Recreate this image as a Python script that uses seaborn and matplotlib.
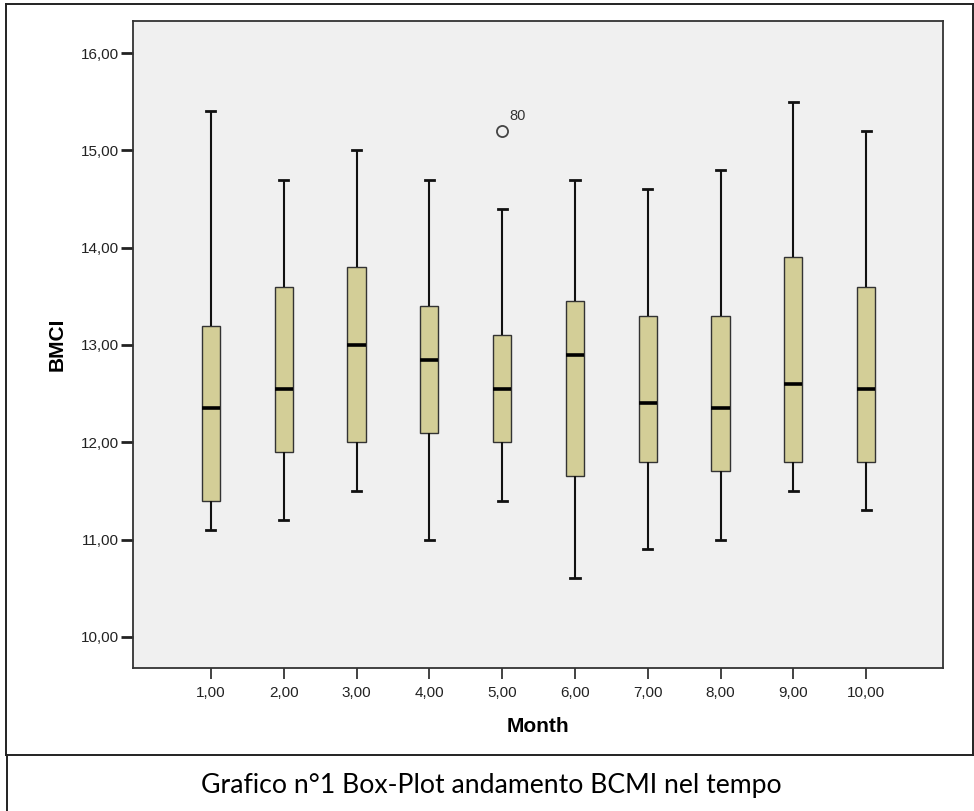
import numpy as np
import pandas as pd
import matplotlib
matplotlib.use('Agg')
import matplotlib.pyplot as plt
from matplotlib.lines import Line2D
import seaborn as sns

# Box summaries (whisker low, Q1, median, Q3, whisker high)
months = ['1,00', '2,00', '3,00', '4,00', '5,00', '6,00', '7,00', '8,00', '9,00', '10,00']
whisk_low = [11.1, 11.2, 11.5, 11.0, 11.4, 10.6, 10.9, 11.0, 11.5, 11.3]
q1 = [11.4, 11.9, 12.0, 12.1, 12.0, 11.65, 11.8, 11.7, 11.8, 11.8]
median = [12.35, 12.55, 13.0, 12.85, 12.55, 12.9, 12.4, 12.35, 12.6, 12.55]
q3 = [13.2, 13.6, 13.8, 13.4, 13.1, 13.45, 13.3, 13.3, 13.9, 13.6]
whisk_high = [15.4, 14.7, 15.0, 14.7, 14.4, 14.7, 14.6, 14.8, 15.5, 15.2]

# outlier(s)
out_month = ['5,00']
out_value = [15.2]
out_label = ['80']

yticks = [10, 11, 12, 13, 14, 15, 16]

# five points per month -> quartiles come out exactly
rows = []
for i, m in enumerate(months):
    for v in (whisk_low[i], q1[i], median[i], q3[i], whisk_high[i]):
        rows.append({'Month': m, 'BMCI': v})
df = pd.DataFrame(rows)
df_out = pd.DataFrame({'Month': out_month, 'BMCI': out_value})

W, H = 974, 811
fig = plt.figure(figsize=(W / 100, H / 100), dpi=100)
fig.patch.set_facecolor('white')

# axes placed in pixel terms
left, right, top, bottom = 133, 943, 21, 668
ax = fig.add_axes([left / W, 1 - bottom / H, (right - left) / W, (bottom - top) / H])
ax.set_facecolor('#F0F0F0')

sns.boxplot(data=df, x='Month', y='BMCI', order=months, whis=(0, 100), width=0.25,
            color='#D3CE97', saturation=1, linecolor='#222222', linewidth=1.0,
            medianprops=dict(color='black', linewidth=2.6),
            whiskerprops=dict(color='#111111', linewidth=1.5),
            capprops=dict(color='#111111', linewidth=2.0),
            boxprops=dict(edgecolor='#333333', linewidth=1.0),
            showfliers=False, ax=ax)

sns.stripplot(data=df_out, x='Month', y='BMCI', order=months, jitter=False, size=8,
              color='#F0F0F0', edgecolor='#444444', linewidth=1.3, ax=ax)

# label the outlier with its case number
for m, v, lab in zip(out_month, out_value, out_label):
    ax.annotate(lab, xy=(months.index(m), v), xytext=(5, 8), textcoords='offset points',
                fontsize=10.5, color='#333333', family='Liberation Sans')

ax.set_xlim(-1.07, 10.055)
ax.set_ylim(9.68, 16.33)
ax.set_yticks(yticks)
ax.set_yticklabels([f'{t:.2f}'.replace('.', ',') for t in yticks])

for sp in ax.spines.values():
    sp.set_color('#333333')
    sp.set_linewidth(1.3)

ax.tick_params(axis='y', length=9, width=2, color='#222222', pad=1, labelsize=11, labelcolor='#222222')
ax.tick_params(axis='x', length=8, width=1.2, color='#222222', pad=5, labelsize=11, labelcolor='#222222')
for lab in ax.get_xticklabels() + ax.get_yticklabels():
    lab.set_family('Liberation Sans')

ax.set_xlabel('Month', fontsize=15, fontweight='bold', family='Liberation Sans', labelpad=12)
ax.set_ylabel('BMCI', fontsize=15, fontweight='bold', family='Liberation Sans', labelpad=10)

# outer frame and caption box
def fx(x):
    return x / W

def fy(y):
    return 1 - y / H

frame = [((5.5, 4), (973, 4)), ((973, 4), (973, 755)), ((5.5, 4), (5.5, 755)),
         ((5.5, 755), (974, 755)), ((6.5, 755), (6.5, 811))]
for (x0, y0), (x1, y1) in frame:
    fig.add_artist(Line2D([fx(x0), fx(x1)], [fy(y0), fy(y1)], color='#222222', linewidth=1.4,
                          transform=fig.transFigure))

fig.text(fx(491), fy(786), 'Grafico n°1 Box-Plot andamento BCMI nel tempo', ha='center', va='center',
         fontsize=19.2, family='Lato', color='black')

fig.savefig('out.png', dpi=100)
